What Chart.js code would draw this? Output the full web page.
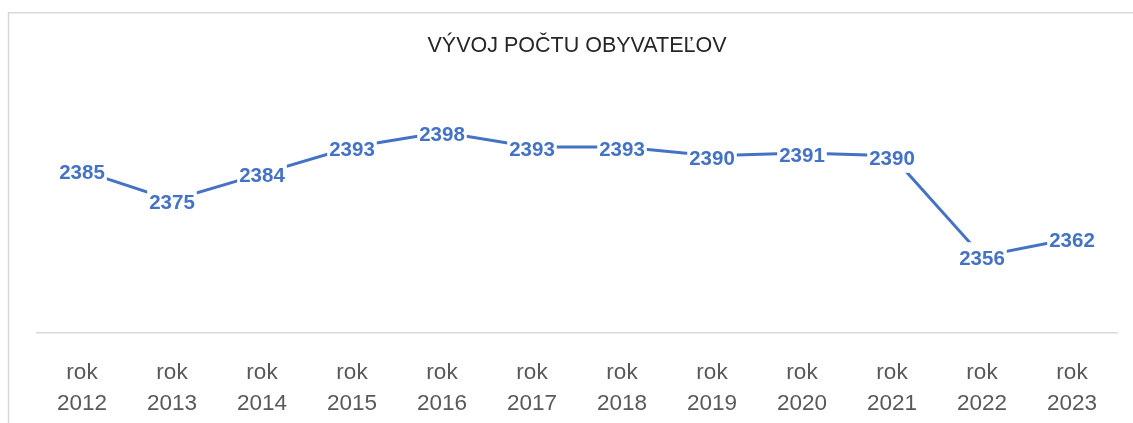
<!DOCTYPE html>
<html>
<head>
<meta charset="utf-8">
<script src="https://cdn.jsdelivr.net/npm/chart.js@4/dist/chart.umd.min.js"></script>
<style>
  html, body { margin: 0; padding: 0; background: #ffffff; overflow: hidden; }
  #wrap { width: 1133px; height: 423px; position: relative; }
</style>
</head>
<body>
<div id="wrap"><canvas id="c" width="1133" height="423"></canvas></div>
<script>
const chartTitle = 'VÝVOJ POČTU OBYVATEĽOV';
const yearPrefix = 'rok';
const years = ['2012','2013','2014','2015','2016','2017','2018','2019','2020','2021','2022','2023'];
const population = [2385, 2375, 2384, 2393, 2398, 2393, 2393, 2390, 2391, 2390, 2356, 2362];
const yMin = 2330;
const yMax = 2410;

const categories = years.map(y => [yearPrefix, y]);

const frame = {
  id: 'frame',
  beforeDraw(chart) {
    const ctx = chart.ctx;
    ctx.save();
    ctx.fillStyle = '#ffffff';
    ctx.fillRect(0, 0, chart.width, chart.height);
    ctx.strokeStyle = '#d9d9d9';
    ctx.lineWidth = 1.5;
    ctx.beginPath();
    ctx.moveTo(8.5, chart.height + 2);
    ctx.lineTo(8.5, 12.75);
    ctx.lineTo(chart.width + 2, 12.75);
    ctx.stroke();
    ctx.restore();
  }
};

const valueLabels = {
  id: 'valueLabels',
  afterDatasetsDraw(chart) {
    const ctx = chart.ctx;
    const meta = chart.getDatasetMeta(0);
    const data = chart.data.datasets[0].data;
    ctx.save();
    ctx.font = 'bold 20.5px "Liberation Sans", Arial, sans-serif';
    ctx.textAlign = 'center';
    ctx.textBaseline = 'middle';
    meta.data.forEach((pt, i) => {
      const txt = String(data[i]);
      const w = ctx.measureText(txt).width;
      ctx.fillStyle = '#ffffff';
      ctx.fillRect(pt.x - w / 2 - 2, pt.y - 14, w + 4, 31);
      ctx.fillStyle = '#4472c4';
      ctx.fillText(txt, pt.x, pt.y + 3);
    });
    ctx.restore();
  }
};

new Chart(document.getElementById('c'), {
  type: 'line',
  data: {
    labels: categories,
    datasets: [{
      data: population,
      borderColor: '#4472c4',
      borderWidth: 3,
      pointRadius: 0,
      pointHoverRadius: 0,
      tension: 0,
      fill: false
    }]
  },
  options: {
    responsive: false,
    animation: false,
    events: [],
    layout: { padding: { left: 37, right: 16, top: 0, bottom: 3 } },
    plugins: {
      legend: { display: false },
      tooltip: { enabled: false },
      title: {
        display: true,
        text: chartTitle,
        color: '#262626',
        font: { family: '"Liberation Sans", Arial, sans-serif', size: 21.5, weight: 'normal', lineHeight: 1.2 },
        padding: { top: 33, bottom: 38 }
      }
    },
    scales: {
      x: {
        offset: true,
        grid: { display: false, drawTicks: false },
        border: { display: true, color: '#d9d9d9', width: 1.5 },
        ticks: {
          color: '#595959',
          font: { family: '"Liberation Sans", Arial, sans-serif', size: 22.5, lineHeight: 1.4 },
          padding: 24,
          maxRotation: 0,
          autoSkip: false
        },
        afterFit(scale) { scale.height = 87; }
      },
      y: {
        display: false,
        min: yMin,
        max: yMax
      }
    }
  },
  plugins: [frame, valueLabels]
});
</script>
</body>
</html>
